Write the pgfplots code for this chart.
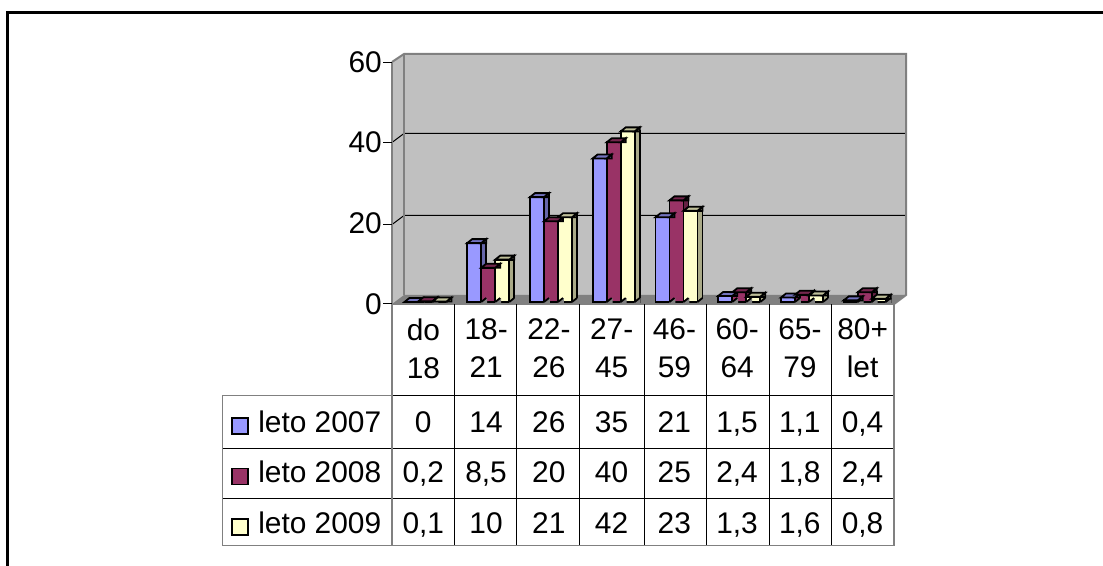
\documentclass[border=0pt]{standalone}
\usepackage{pgfplots}
\pgfplotsset{compat=1.18}
\usepackage{pgfplotstable}
\usepackage{fontspec}
\setmainfont{Liberation Sans}
\definecolor{cB}{HTML}{9999FF}\definecolor{cBs}{HTML}{6666AA}\definecolor{cBt}{HTML}{7373BF}
\definecolor{cP}{HTML}{993366}\definecolor{cPs}{HTML}{662244}\definecolor{cPt}{HTML}{73264D}
\definecolor{cY}{HTML}{FFFFCC}\definecolor{cYs}{HTML}{AAAA88}\definecolor{cYt}{HTML}{BFBF99}
\definecolor{wall}{HTML}{C0C0C0}\definecolor{floorc}{HTML}{808080}
\pgfplotstableread{
x y
0 0
1 14.6
2 26
3 35.6
4 21
5 1.5
6 1.1
7 0.4
}\tA
\pgfplotstableread{
x y
0 0.2
1 8.5
2 20
3 39.6
4 25.2
5 2.4
6 1.8
7 2.4
}\tB
\pgfplotstableread{
x y
0 0.1
1 10.5
2 21
3 42.3
4 22.6
5 1.3
6 1.6
7 0.8
}\tC
\pgfdeclareplotmark{ptop}{\pgfpathmoveto{\pgfqpoint{-5.25pt}{0pt}}\pgfpathlineto{\pgfqpoint{5.25pt}{0pt}}\pgfpathlineto{\pgfqpoint{9pt}{3pt}}\pgfpathlineto{\pgfqpoint{-1.5pt}{3pt}}\pgfpathclose\pgfusepathqfillstroke}
\pgfdeclareplotmark{pside}{\pgfpathmoveto{\pgfqpoint{5.25pt}{0pt}}\pgfpathlineto{\pgfqpoint{9pt}{3pt}}\pgfpathlineto{\pgfqpoint{9pt}{0pt}}\pgfpathclose\pgfusepathqfillstroke}
\pgfdeclareplotmark{pbase}{\pgfpathmoveto{\pgfqpoint{5.25pt}{0pt}}\pgfpathlineto{\pgfqpoint{9.6pt}{3pt}}\pgfpathlineto{\pgfqpoint{9.6pt}{-0.8pt}}\pgfpathlineto{\pgfqpoint{5.25pt}{-0.8pt}}\pgfpathclose\pgfusepathqfill\pgfpathmoveto{\pgfqpoint{5.25pt}{0pt}}\pgfpathlineto{\pgfqpoint{9pt}{3pt}}\pgfusepathqstroke}
\newcommand{\prism}[5]{%
 \addplot[ybar,bar width=3.75pt,bar shift={#2pt+7.125pt},fill=#4,draw=black,line width=1.35pt,forget plot] table[x=x,y=y]{#1};
 \addplot[only marks,mark=pbase,mark options={fill=floorc,draw=black,line width=1.35pt,xshift=#2pt},forget plot] table[x=x,y expr=0]{#1};
 \addplot[only marks,mark=pside,mark options={fill=#4,draw=black,line width=1.35pt,xshift=#2pt},forget plot] table[x=x,y=y]{#1};
 \addplot[only marks,mark=ptop,mark options={fill=#5,draw=black,line width=1.35pt,xshift=#2pt},forget plot] table[x=x,y=y]{#1};
 \addplot[ybar,bar width=10.5pt,bar shift=#2pt,fill=#3,draw=black,line width=1.35pt] table[x=x,y=y]{#1};
}
\begin{document}
\begin{tikzpicture}[x=0.75pt,y=-0.75pt]
\useasboundingbox (0,0) rectangle (1103,566);
\fill[white] (0,0) rectangle (1103,566);
\def\bigf{\fontsize{22.4}{28.5}\selectfont}
\coordinate (A) at (392,304);
\coordinate (B) at (394.1,302);
% frame
\draw[black,line width=2.2pt] (7.5,566) -- (7.5,12.5) -- (1103,12.5);
% walls and floor
\fill[wall] (392,62) -- (404,54) -- (906,54) -- (906,295) -- (894,304) -- (392,304) -- cycle;
\fill[floorc] (392,304) -- (404,295) -- (906,295) -- (894,304) -- cycle;
\foreach \y/\z in {215.5/224.5,133.5/142.5}{
  \draw[black,line width=0.75pt] (392,\z) -- (404,\y) -- (906,\y);
}
\draw[floorc,line width=1.5pt] (392,62) -- (404,54) -- (906,54) -- (906,295) -- (894,304);
\draw[floorc,line width=1.5pt] (404,54) -- (404,295);
% axis with the ticks
\begin{axis}[at={(A)},anchor=south west,scale only axis,width=376.5pt,height=181.5pt,
  xmin=-0.5,xmax=7.5,ymin=0,ymax=60,clip=false,
  axis y line*=left,axis x line*=bottom,
  axis line style={draw=floorc,line width=1.5pt,-},
  xtick={0,...,7},
  xticklabels={{do\\18},{18-\\21},{22-\\26},{27-\\45},{46-\\59},{60-\\64},{65-\\79},{80+\\let}},
  x tick label style={align=center,font=\bigf,anchor=north},
  ytick={0,20,40,60},
  y tick label style={font=\bigf},
  /pgf/number format/assume math mode=true,
  major tick length=0pt,
  ytick style={draw=none},
  xtick style={draw=none},
  xticklabel style={inner sep=0pt,yshift=-10.6pt},
  yticklabel style={inner sep=0pt,xshift=-7.5pt},
]
\end{axis}
\foreach \z in {62.5,142.5,224.5,304}{\draw[black,line width=0.75pt] (383,\z) -- (392,\z);}
% table lines
\foreach \x in {454.5,516.5,579.5,644.5,706.5,769.5,831.5}{\draw[black,line width=0.75pt] (\x,304) -- (\x,545.7);}
\foreach \z in {395.5,448.5,498.5}{\draw[black,line width=0.75pt] (392,\z) -- (893,\z);}
\foreach \z in {448.5,498.5}{\draw[black,line width=0.75pt] (223,\z) -- (392,\z);}
\draw[floorc,line width=1.1pt] (392,395.7) -- (222.7,395.7) -- (222.7,545.7) -- (894,545.7) -- (894,304);
\draw[floorc,line width=1.1pt] (392,304) -- (392,545.7);
% bars
\begin{axis}[at={(B)},anchor=south west,scale only axis,width=376.5pt,height=181.5pt,
  xmin=-0.5,xmax=7.5,ymin=0,ymax=60,clip=false,axis lines=none]
\prism{\tA}{-10.5}{cB}{cBs}{cBt}
\prism{\tB}{0}{cP}{cPs}{cPt}
\prism{\tC}{10.5}{cY}{cYs}{cYt}
\end{axis}
% table texts
\foreach \row/\base/\sw/\name/\col in {0/432/418/leto 2007/cB,1/482/468.5/leto 2008/cP,2/533/519/leto 2009/cY}{
  \draw[black,line width=1.35pt,fill=\col] (232,\sw) rectangle (248,\sw+16);
  \node[anchor=base west,inner sep=0pt,font=\bigf] at (258,\base) {\name};
}
\foreach \i/\t in {0/0,1/14,2/26,3/35,4/21,5/{1,5},6/{1,1},7/{0,4}}{
  \node[anchor=base,inner sep=0pt,font=\bigf] at (423.3+62.75*\i,432) {\t};}
\foreach \i/\t in {0/{0,2},1/{8,5},2/20,3/40,4/25,5/{2,4},6/{1,8},7/{2,4}}{
  \node[anchor=base,inner sep=0pt,font=\bigf] at (423.3+62.75*\i,482) {\t};}
\foreach \i/\t in {0/{0,1},1/10,2/21,3/42,4/23,5/{1,3},6/{1,6},7/{0,8}}{
  \node[anchor=base,inner sep=0pt,font=\bigf] at (423.3+62.75*\i,533) {\t};}
\end{tikzpicture}
\end{document}
